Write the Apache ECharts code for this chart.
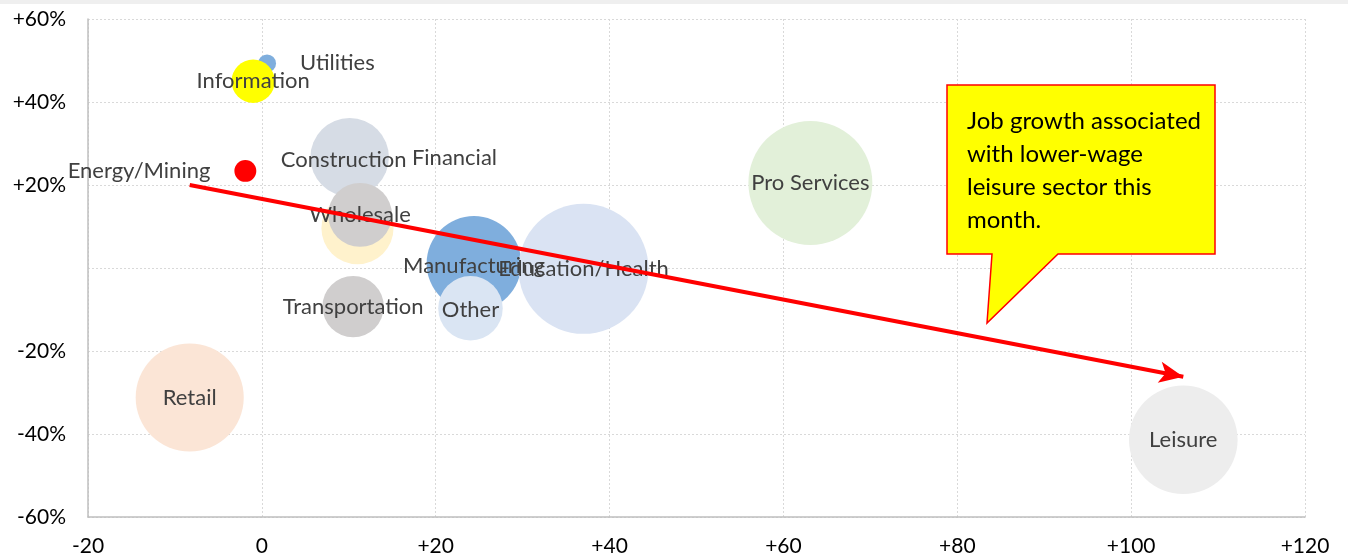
<!DOCTYPE html>
<html>
<head>
<meta charset="utf-8">
<script src="https://cdn.jsdelivr.net/npm/echarts@6/dist/echarts.min.js"></script>
<style>
  html, body { margin: 0; padding: 0; background: #fff; }
  #chart { width: 1348px; height: 560px; }
</style>
</head>
<body>
<div id="chart"></div>
<script>
// sector bubbles: x = job change (thousands), y = wage growth (%), size = employment weight
const sectors = ['Utilities', 'Information', 'Energy/Mining', 'Construction', 'Financial', 'Wholesale',
  'Transportation', 'Manufacturing', 'Other', 'Education/Health', 'Pro Services', 'Retail', 'Leisure'];
const jobChange = [0.6, -1.0, -1.9, 10.1, 11.0, 11.3, 10.5, 24.4, 24.0, 37.0, 63.1, -8.3, 106.0];
const wageGrowth = [49.3, 45.0, 23.4, 26.7, 9.6, 12.8, -9.3, 1.1, -9.7, -0.2, 20.5, -31.2, -41.4];
const sizes = [0.8, 4.7, 1.2, 15.4, 13.0, 10.2, 9.4, 22.4, 10.4, 42.3, 38.4, 29.2, 29.5];

// trend arrow endpoints
const trendStart = [-8.3, 20.0];
const trendEnd = [106.0, -26.2];

const xTicks = [-20, 0, 20, 40, 60, 80, 100, 120];
const yTicks = [-60, -40, -20, 0, 20, 40, 60];

const calloutText = ['Job growth associated', 'with lower-wage', 'leisure sector this', 'month.'];

// per-sector look
const styles = {
  'Utilities': { color: '#7FAEDD', label: { position: 'right', distance: 24 } },
  'Information': { color: '#FFFF00' },
  'Energy/Mining': { color: '#FF0000', label: { position: 'left', distance: 24 } },
  'Construction': { color: '#D6DCE5', label: { offset: [-6, 3] } },
  'Financial': { color: '#FFF2CC', label: { offset: [97, -70] } },
  'Wholesale': { color: '#D0CECE' },
  'Transportation': { color: '#D0CECE' },
  'Manufacturing': { color: '#7FAEDD', label: { offset: [0, 2] } },
  'Other': { color: '#DAE5F3', label: { offset: [0, 2] } },
  'Education/Health': { color: '#DAE3F3' },
  'Pro Services': { color: '#E2F0D9' },
  'Retail': { color: '#FBE5D6' },
  'Leisure': { color: '#EDEDED' }
};

const FONT = 'Lato, "Open Sans", sans-serif';

const bubbleData = sectors.map((name, i) => {
  const s = styles[name];
  return {
    name: name,
    value: [jobChange[i], wageGrowth[i], sizes[i]],
    itemStyle: { color: s.color, opacity: 1 },
    label: Object.assign({ position: 'inside' }, s.label || {})
  };
});

const chart = echarts.init(document.getElementById('chart'));

chart.setOption({
  backgroundColor: '#fff',
  animation: false,
  grid: { left: 88, right: 43, top: 19, bottom: 43 },
  xAxis: {
    type: 'value',
    min: xTicks[0],
    max: xTicks[xTicks.length - 1],
    interval: 20,
    axisLine: { onZero: false, lineStyle: { color: '#BFBFBF', width: 1.5 } },
    axisTick: { show: false },
    axisLabel: {
      color: '#000',
      fontFamily: FONT,
      fontSize: 21,
      margin: 19,
      formatter: (v) => (v > 0 ? '+' + v : '' + v)
    },
    splitLine: { show: true, lineStyle: { color: '#D9D9D9', type: [2, 2] } }
  },
  yAxis: {
    type: 'value',
    min: yTicks[0],
    max: yTicks[yTicks.length - 1],
    interval: 20,
    axisLine: { show: true, onZero: false, lineStyle: { color: '#BFBFBF', width: 1.5 } },
    axisTick: { show: false },
    axisLabel: {
      color: '#000',
      fontFamily: FONT,
      fontSize: 21,
      margin: 22,
      formatter: (v) => (v > 0 ? '+' + v + '%' : v < 0 ? v + '%' : '')
    },
    splitLine: { show: true, lineStyle: { color: '#D9D9D9', type: [2, 2] } }
  },
  series: [
    {
      type: 'scatter',
      data: bubbleData,
      symbolSize: (val) => 20 * Math.sqrt(val[2]),
      label: {
        show: true,
        formatter: '{b}',
        color: '#404040',
        fontFamily: FONT,
        fontSize: 22
      },
      emphasis: { disabled: true },
      z: 2
    },
    {
      type: 'line',
      data: [],
      z: 5,
      markLine: {
        silent: true,
        symbol: ['none', 'arrow'],
        symbolSize: [16, 24],
        label: { show: false },
        lineStyle: { color: '#FF0000', width: 4, type: 'solid' },
        data: [[{ coord: trendStart }, { coord: trendEnd }]]
      }
    }
  ],
  graphic: [
    {
      type: 'rect',
      shape: { x: 0, y: 0, width: 1348, height: 4 },
      style: { fill: '#EFEFEF' },
      silent: true
    },
    {
      type: 'polygon',
      z: 100,
      shape: {
        points: [[947, 85], [1215, 85], [1215, 254], [1058, 254], [987, 323], [992, 254], [947, 254]]
      },
      style: { fill: '#FFFF00', stroke: '#FF0000', lineWidth: 1.5 },
      silent: true
    },
    {
      type: 'text',
      z: 101,
      left: 967,
      top: 105,
      style: {
        text: calloutText.join('\n'),
        fill: '#000',
        font: '24px ' + FONT,
        lineHeight: 33
      },
      silent: true
    }
  ]
});
</script>
</body>
</html>
